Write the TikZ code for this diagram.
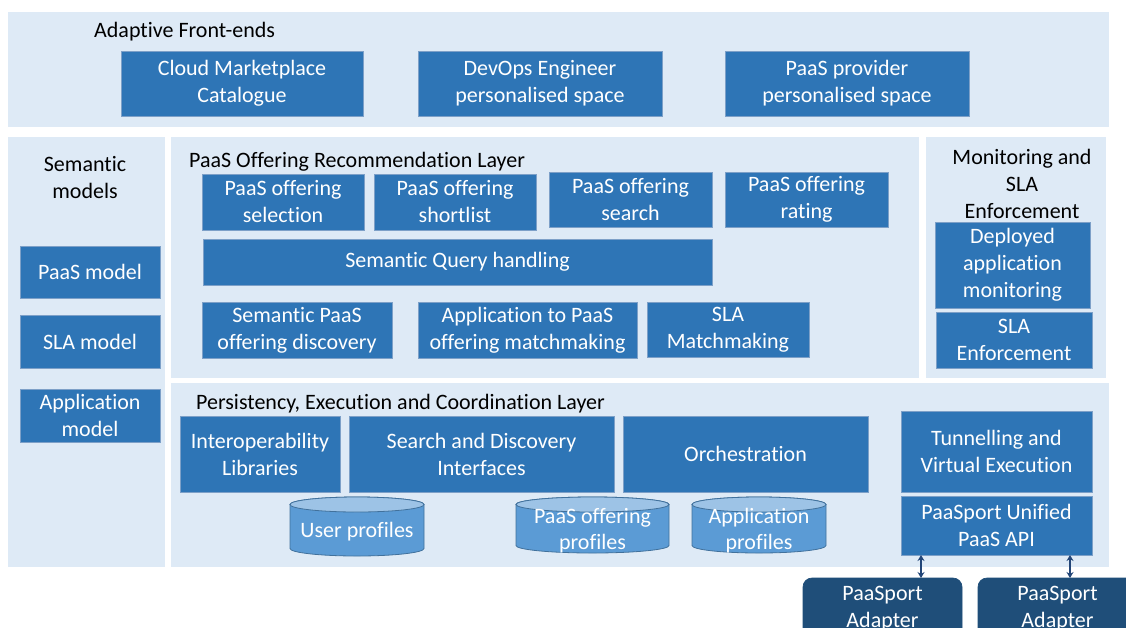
\documentclass[tikz,border=0pt]{standalone}
\usepackage{fontspec}
\setmainfont{Carlito}[Ligatures=NoCommon]
\usetikzlibrary{arrows.meta}
\definecolor{panelbg}{RGB}{222,234,246}
\definecolor{boxblue}{RGB}{46,117,182}
\definecolor{boxedge}{RGB}{125,160,200}
\definecolor{cylbody}{RGB}{91,155,213}
\definecolor{cyltop}{RGB}{157,195,230}
\definecolor{cyledge}{RGB}{65,113,156}
\definecolor{adapter}{RGB}{31,78,121}
\definecolor{arrowblue}{RGB}{35,70,120}
\begin{document}
\begin{tikzpicture}[x=1pt,y=-1pt,
  panel/.style={fill=panelbg,draw=none,inner sep=0pt,outer sep=0pt},
  box/.style={fill=boxblue,draw=boxedge,line width=0.7pt,text=white,align=center,
    inner sep=0pt,outer sep=0pt,font=\fontsize{22}{27}\selectfont},
  adbox/.style={box,fill=adapter,draw=adapter,rounded corners=9pt},
  ttl/.style={text=black,align=center,inner sep=0pt,font=\fontsize{22}{27}\selectfont},
  cyltxt/.style={text=white,align=center,inner sep=0pt,font=\fontsize{22}{26}\selectfont},
  cyl/.style={fill=cylbody,draw=cyledge,line width=0.8pt},
  cyltopst/.style={fill=cyltop,draw=cyledge,line width=0.8pt},
  link/.style={draw=arrowblue,line width=1.1pt,{Stealth[length=6pt,width=7pt]}-{Stealth[length=6pt,width=7pt]}}]
\clip (0,0) rectangle (1126,627);
\fill[white] (0,0) rectangle (1126,627);

% layer panels
\node[panel,minimum width=1101pt,minimum height=115pt] (front) at (558.5,69.5) {};
\node[panel,minimum width=157pt,minimum height=430pt] (sem) at (86.5,352) {};
\node[panel,minimum width=748pt,minimum height=241pt] (rec) at (545,257.5) {};
\node[panel,minimum width=180pt,minimum height=241pt] (mon) at (1016,257.5) {};
\node[panel,minimum width=938pt,minimum height=184pt] (pers) at (640,475) {};

% panel titles
\node[ttl,anchor=west] (tfront) at (94,32) {Adaptive Front-ends};
\node[ttl] (tsem) at (85,178) {Semantic\\models};
\node[ttl,anchor=west] (trec) at (189,162) {PaaS Offering Recommendation Layer};
\node[ttl] (tmon) at (1022,184) {Monitoring and\\SLA\\Enforcement};
\node[ttl,anchor=west] (tpers) at (196,404) {Persistency, Execution and Coordination Layer};

% front-ends
\node[box,minimum width=242pt,minimum height=65pt] (cm) at (242,83.5) {Cloud Marketplace\\Catalogue};
\node[box,minimum width=244pt,minimum height=65pt] (devops) at (540,83.5) {DevOps Engineer\\personalised space};
\node[box,minimum width=244pt,minimum height=65pt] (prov) at (847,83.5) {PaaS provider\\personalised space};

% semantic models
\node[box,minimum width=140pt,minimum height=52pt] (pm) at (90,272) {PaaS model};
\node[box,minimum width=140pt,minimum height=53pt] (slam) at (90,341.5) {SLA model};
\node[box,minimum width=140pt,minimum height=53pt] (appm) at (90,415.5) {Application\\model};

% recommendation layer
\node[box,minimum width=162pt,minimum height=56pt] (sel) at (283,202) {PaaS offering\\selection};
\node[box,minimum width=162pt,minimum height=56pt] (short) at (455,202) {PaaS offering\\shortlist};
\node[box,minimum width=163pt,minimum height=55pt] (search) at (630.5,199.5) {PaaS offering\\search};
\node[box,minimum width=163pt,minimum height=55pt] (rating) at (806.5,199.5) {PaaS offering\\rating};
\node[box,minimum width=509pt,minimum height=46pt] (sqh) at (457.5,262) {Semantic Query handling};
\node[box,minimum width=190pt,minimum height=56pt] (disc) at (297,330) {Semantic PaaS\\offering discovery};
\node[box,minimum width=219pt,minimum height=56pt] (match) at (527.5,330) {Application to PaaS\\offering matchmaking};
\node[box,minimum width=162pt,minimum height=55pt] (slamatch) at (728,329.5) {SLA\\Matchmaking};

% monitoring and SLA enforcement
\node[box,minimum width=155pt,minimum height=86pt] (deploy) at (1012.5,265) {Deployed\\application\\monitoring};
\node[box,minimum width=156pt,minimum height=56pt] (slaenf) at (1014,340) {SLA\\Enforcement};

% persistency, execution and coordination
\node[box,minimum width=160pt,minimum height=76pt] (interop) at (260,454) {Interoperability\\Libraries};
\node[box,minimum width=265pt,minimum height=76pt] (sdi) at (481.5,454) {Search and Discovery\\Interfaces};
\node[box,minimum width=245pt,minimum height=76pt] (orch) at (745.5,454) {Orchestration};
\node[box,minimum width=191pt,minimum height=81pt] (tunnel) at (996.5,451.5) {Tunnelling and\\Virtual Execution};
\node[box,minimum width=191pt,minimum height=59pt] (unified) at (996.5,525.5) {PaaSport Unified\\PaaS API};

% data stores
\path[cyl] (290,504.5) -- (290,548.5) arc[start angle=180,end angle=360,x radius=67pt,y radius=7.5pt]
  -- (424,504.5) arc[start angle=0,end angle=180,x radius=67pt,y radius=7.5pt] -- cycle;
\path[cyltopst] (357,504.5) ellipse[x radius=67pt,y radius=7.5pt];
\node[cyltxt] (users) at (357,532) {User profiles};

\path[cyl] (516,504.5) -- (516,545.5) arc[start angle=180,end angle=360,x radius=76.5pt,y radius=7.5pt]
  -- (669,504.5) arc[start angle=0,end angle=180,x radius=76.5pt,y radius=7.5pt] -- cycle;
\path[cyltopst] (592.5,504.5) ellipse[x radius=76.5pt,y radius=7.5pt];
\node[cyltxt] (offers) at (592.5,531) {PaaS offering\\profiles};

\path[cyl] (692,504.5) -- (692,545.5) arc[start angle=180,end angle=360,x radius=67pt,y radius=7.5pt]
  -- (826,504.5) arc[start angle=0,end angle=180,x radius=67pt,y radius=7.5pt] -- cycle;
\path[cyltopst] (759,504.5) ellipse[x radius=67pt,y radius=7.5pt];
\node[cyltxt] (apps) at (759,531) {Application\\profiles};

% adapters
\node[adbox,minimum width=159pt,minimum height=61pt] (ad1) at (882.5,608.5) {PaaSport\\Adapter};
\node[adbox,minimum width=159pt,minimum height=61pt] (ad2) at (1057.5,608.5) {PaaSport\\Adapter};

\draw[link] (921,0 |- unified.south) -- (921,0 |- ad1.north);
\draw[link] (1070,0 |- unified.south) -- (1070,0 |- ad2.north);
\end{tikzpicture}
\end{document}
